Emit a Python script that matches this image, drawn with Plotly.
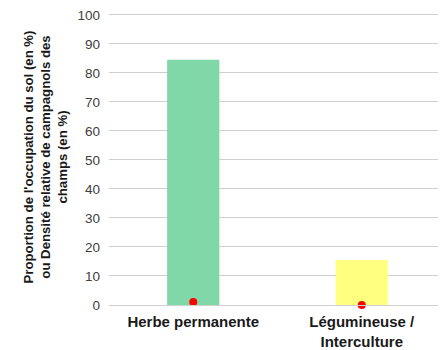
import plotly.graph_objects as go

categories = ["Herbe permanente", "Légumineuse /<br>Interculture"]
proportion = [84.5, 15.5]
densite = [1.0, 0.0]
bar_colors = ["#80d8a8", "#ffff80"]

fig = go.Figure()
fig.add_trace(go.Bar(x=categories, y=proportion, marker=dict(color=bar_colors, line=dict(width=0)),
                     width=0.31, showlegend=False))
fig.add_trace(go.Scatter(x=categories, y=densite, mode="markers",
                         marker=dict(color="#ff0000", size=8), showlegend=False, cliponaxis=False))

fig.update_layout(
    width=438, height=342,
    margin=dict(l=101, r=0, t=1, b=45),
    paper_bgcolor="white", plot_bgcolor="white",
    font=dict(family="Liberation Sans, Arial, sans-serif", color="#262626"),
    xaxis=dict(tickfont=dict(size=15, color="#1a1a1a"),
               showline=True, linecolor="#d0d0d0", linewidth=1, ticks="",
               ticklabelstandoff=3),
    yaxis=dict(range=[0, 102], tickvals=list(range(0, 101, 10)), tickfont=dict(size=13.5, color="#404040"),
               gridcolor="#d0d0d0", gridwidth=1, showgrid=True, zeroline=False, ticks="",
               ticklabelstandoff=8, ticklabeloverflow="allow",
               title=dict(text="<b>Proportion de l'occupation du sol (en %)<br>ou Densité relative de campagnols des<br>champs (en %)</b>",
                          font=dict(size=13.2, color="#1a1a1a"), standoff=6)),
)
fig.update_xaxes(tickprefix="<b>", ticksuffix="</b>")
fig.write_html("out.html")
